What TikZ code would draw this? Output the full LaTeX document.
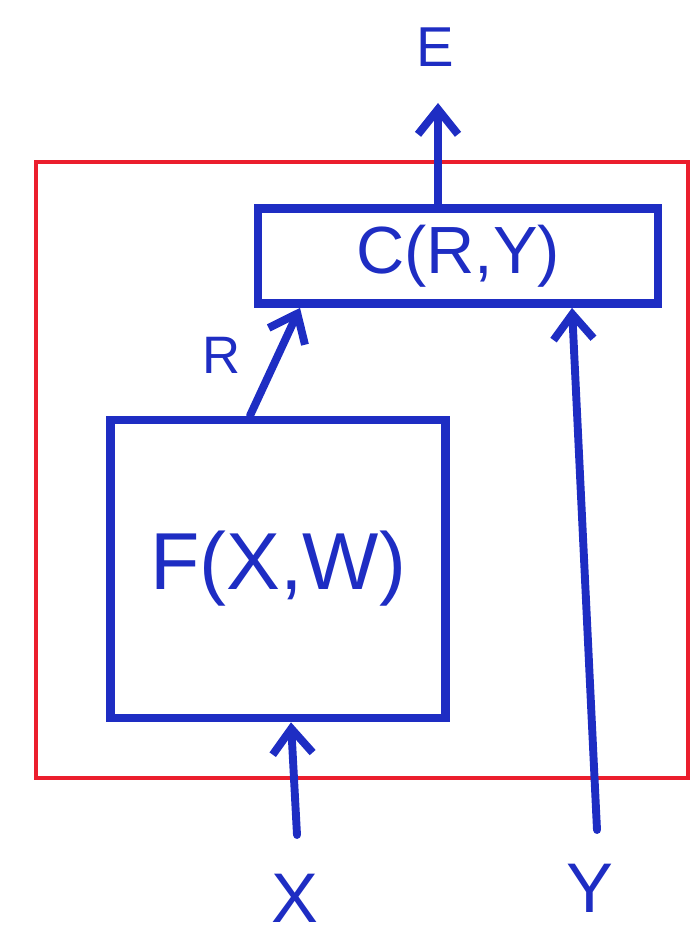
\documentclass[tikz,border=0pt]{standalone}
\usepackage{fontspec}
\setmainfont{Liberation Sans}
\usetikzlibrary{arrows.meta}
\definecolor{penblue}{RGB}{30,45,195}
\definecolor{penred}{RGB}{235,30,45}
\tikzset{
  box/.style={rectangle, draw=penblue, line width=5pt, text=penblue, inner sep=0pt},
  lbl/.style={text=penblue, inner sep=1pt},
  arr/.style={draw=penblue, line width=4.5pt, line cap=round, -{Straight Barb[length=0.5cm, width=0.8cm, line width=4.5pt]}}
}
\begin{document}
\begin{tikzpicture}[x=0.02cm, y=-0.02cm]
\useasboundingbox (0,0) rectangle (698,939);
% outer frame
\node[rectangle, draw=penred, line width=2.8pt, minimum width=652*0.02cm, minimum height=616*0.02cm] (frame) at (362,470) {};
% boxes
\node[box, minimum width=8cm, minimum height=1.9cm, font=\fontsize{38}{40}\selectfont] (cbox) at (458,256) {C(R,Y)};
\node[box, minimum width=6.7cm, minimum height=5.96cm, font=\fontsize{46}{48}\selectfont] (fbox) at (278,569) {F(X,W)};
% labels and free ends
\coordinate (etip) at (438,103);
\node[lbl, font=\fontsize{32}{34}\selectfont] (e) at (435,47) {E};
\node[lbl, font=\fontsize{30}{32}\selectfont] (r) at (222,355) {R};
\node[lbl, font=\fontsize{40}{42}\selectfont] (x) at (295,898) {X};
\node[lbl, font=\fontsize{40}{42}\selectfont] (y) at (590,888) {Y};
\coordinate (xstart) at (297,835);
\coordinate (ystart) at (597,830);
% connectors
\draw[arr] (cbox.north -| etip) -- (etip);
\draw[arr] (fbox.north -| 250,0) -- (cbox.south -| 300,0);
\draw[arr] (xstart) -- (fbox.south -| 291,0);
\draw[arr] (ystart) -- (cbox.south -| 572,0);
\end{tikzpicture}
\end{document}
